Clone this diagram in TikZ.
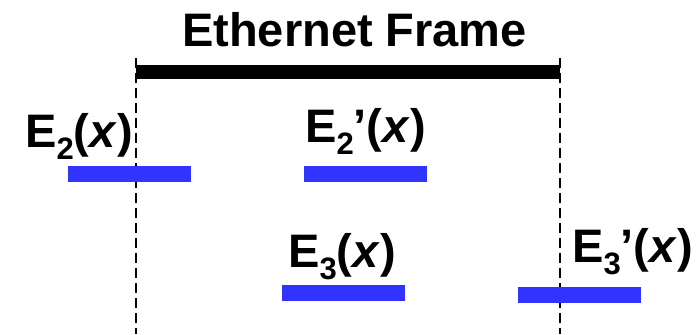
\documentclass[tikz,border=0pt]{standalone}
\usepackage{fontspec}
\setmainfont{Liberation Sans}
\usepackage{xcolor}
\definecolor{signal}{RGB}{51,51,255}
\newcommand{\sigE}[2]{E\raisebox{-12pt}{\fontsize{31}{31}\selectfont #1}#2(\textit{x})}

\begin{document}
\begin{tikzpicture}[x=1pt, y=-1pt,
    lbl/.style = {inner sep=0pt, anchor=base west, font=\fontsize{47}{50}\selectfont\bfseries},
    sigbar/.style = {fill=signal, inner sep=0pt, minimum width=123pt, minimum height=16pt},
    edge/.style = {line width=2.6pt, dash pattern=on 10pt off 5pt}
    ]
    \useasboundingbox (0,0) rectangle (700,334);

    % frame
    \coordinate (fl) at (136,72);
    \coordinate (fr) at (560,72);
    \coordinate (flb) at (136,334);
    \coordinate (frb) at (560,334);
    \node[lbl] (title) at (182,47) {Ethernet Frame};
    \draw[line width=14pt] (fl) -- (fr);
    \draw[edge] ([yshift=14pt]fl) -- (flb);
    \draw[edge] ([yshift=14pt]fr) -- (frb);

    % signals
    \node[sigbar] (b2) at (129.5,174) {};
    \node[sigbar] (b2p) at (365,174) {};
    \node[sigbar] (b3) at (343.5,293) {};
    \node[sigbar] (b3p) at (579.5,295) {};

    \node[lbl] (e2) at (25,147) {\sigE{2}{}};
    \node[lbl] (e2p) at (305,142) {\sigE{2}{’}};
    \node[lbl] (e3) at (288,267) {\sigE{3}{}};
    \node[lbl] (e3p) at (572,262) {\sigE{3}{’}};
\end{tikzpicture}
\end{document}
